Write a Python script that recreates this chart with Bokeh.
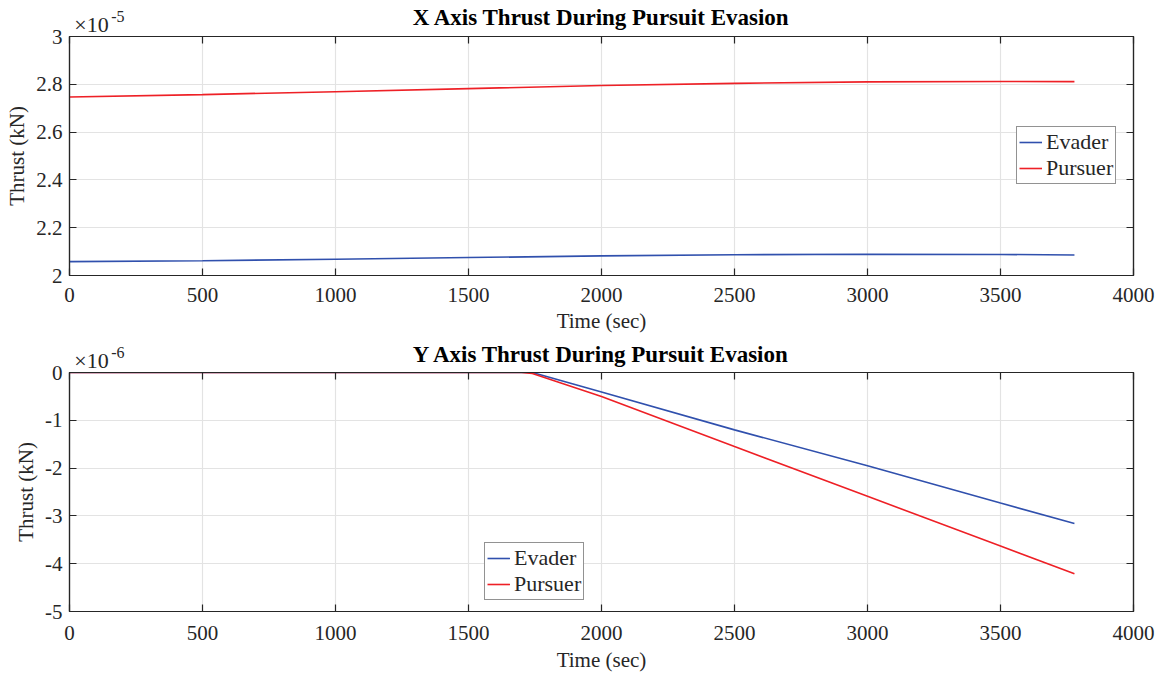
from bokeh.plotting import figure
from bokeh.layouts import column
from bokeh.models import LinearAxis, FixedTicker, Range1d, Legend, LegendItem
from bokeh.embed import file_html
from bokeh.resources import INLINE

# ---------------- data ----------------
# Top panel (values in units of 1e-5 kN)
t_x = [0, 500, 1000, 1500, 2000, 2500, 3000, 3500, 3778]
evader_x = [2.058, 2.062, 2.068, 2.075, 2.082, 2.087, 2.089, 2.088, 2.086]
pursuer_x = [2.747, 2.757, 2.769, 2.782, 2.795, 2.804, 2.810, 2.812, 2.811]

# Bottom panel (values in units of 1e-6 kN)
t_y = [0, 500, 1000, 1500, 1700, 1740, 2000, 2500, 3000, 3500, 3778]
evader_y = [0, 0, 0, 0, 0, 0, -0.41, -1.20, -1.95, -2.73, -3.16]
pursuer_y = [0, 0, 0, 0, 0, -0.02, -0.50, -1.55, -2.59, -3.63, -4.21]

x_ticks = [0, 500, 1000, 1500, 2000, 2500, 3000, 3500, 4000]
top_yticks = [2.0, 2.2, 2.4, 2.6, 2.8, 3.0]
top_ylabels = ["2", "2.2", "2.4", "2.6", "2.8", "3"]
bot_yticks = [-5, -4, -3, -2, -1, 0]
bot_ylabels = ["-5", "-4", "-3", "-2", "-1", "0"]

titles = ["X Axis Thrust During Pursuit Evasion", "Y Axis Thrust During Pursuit Evasion"]
series_names = ["Evader", "Pursuer"]
multiplier = "\u00d710"
exponents = ["-5", "-6"]

# ---------------- style ----------------
FONT = "Liberation Serif"
TXT = "#262626"
GRID = "#e3e3e3"
BLUE = "#3050ad"
RED = "#ee2026"
MULT_POS = 83      # x (data units) where the "x10" text is centred
EXP_POS = 182      # x (data units) where the exponent text is centred


def style_axis(ax, ticks, labels=None, show_labels=True):
    ax.ticker = FixedTicker(ticks=ticks)
    ax.major_tick_in = 7
    ax.major_tick_out = 0
    ax.minor_tick_line_color = None
    ax.axis_line_color = TXT
    ax.axis_line_width = 1.2
    ax.major_tick_line_color = TXT
    ax.major_tick_line_width = 1.2
    ax.major_label_text_font = FONT
    ax.major_label_text_color = TXT
    if show_labels:
        ax.major_label_text_font_size = "21px"
        if labels is not None:
            ax.major_label_overrides = {t: l for t, l in zip(ticks, labels)}
    else:
        ax.major_label_text_font_size = "1px"
        ax.major_label_text_color = None
        ax.major_label_standoff = 0


def text_axis(pos, text, size, standoff):
    ax = LinearAxis(ticker=FixedTicker(ticks=[pos]))
    ax.axis_line_color = None
    ax.major_tick_line_color = None
    ax.minor_tick_line_color = None
    ax.major_tick_in = 0
    ax.major_tick_out = 0
    ax.major_label_overrides = {pos: text}
    ax.major_label_text_font = FONT
    ax.major_label_text_font_size = size
    ax.major_label_text_color = TXT
    ax.major_label_standoff = standoff
    return ax


def make_panel(title, t, ev, pu, yr, yticks, ylabels, exp, height, top, bottom, legend_loc,
               title_standoff, xlab_standoff, xtitle_standoff):
    p = figure(width=1161, height=height, output_backend="svg", toolbar_location=None,
               title=None,
               x_range=Range1d(0, 4000), y_range=Range1d(*yr),
               min_border_left=69, min_border_right=28,
               min_border_top=top, min_border_bottom=bottom)
    p.outline_line_color = TXT
    p.outline_line_width = 1.2
    p.background_fill_color = "white"
    p.border_fill_color = "white"

    style_axis(p.xaxis[0], x_ticks)
    style_axis(p.yaxis[0], yticks, ylabels)
    p.xaxis[0].axis_label = "Time (sec)"
    p.yaxis[0].axis_label = "Thrust (kN)"
    for ax in (p.xaxis[0], p.yaxis[0]):
        ax.axis_label_text_font = FONT
        ax.axis_label_text_font_size = "21px"
        ax.axis_label_text_font_style = "normal"
        ax.axis_label_text_color = TXT
    p.xaxis[0].major_label_standoff = xlab_standoff
    p.xaxis[0].axis_label_standoff = xtitle_standoff
    p.yaxis[0].major_label_standoff = 7
    p.yaxis[0].axis_label_standoff = 4

    rax = LinearAxis()
    style_axis(rax, yticks, show_labels=False)
    p.add_layout(rax, "right")

    # top box edge with inward ticks
    tax = LinearAxis()
    style_axis(tax, x_ticks, show_labels=False)
    p.add_layout(tax, "above")

    # "x10" multiplier
    max_ = text_axis(MULT_POS, multiplier, "22px", 0)
    p.add_layout(max_, "above")
    # superscript exponent, plus bold title as this axis' label
    eax = text_axis(EXP_POS, exp, "16px", -13)
    eax.axis_label = title
    eax.axis_label_text_font = FONT
    eax.axis_label_text_font_size = "23px"
    eax.axis_label_text_font_style = "bold"
    eax.axis_label_text_color = "#000000"
    eax.axis_label_standoff = title_standoff
    p.add_layout(eax, "above")

    p.xgrid.grid_line_color = GRID
    p.ygrid.grid_line_color = GRID
    p.xgrid.grid_line_width = 1.2
    p.ygrid.grid_line_width = 1.2

    r1 = p.line(t, ev, line_color=BLUE, line_width=1.6)
    r2 = p.line(t, pu, line_color=RED, line_width=1.6)

    legend = Legend(items=[LegendItem(label=series_names[0], renderers=[r1]),
                           LegendItem(label=series_names[1], renderers=[r2])],
                    location=legend_loc)
    legend.label_text_font = FONT
    legend.label_text_font_size = "22px"
    legend.label_text_color = TXT
    legend.label_standoff = 4
    legend.label_height = 20
    legend.glyph_width = 23
    legend.glyph_height = 20
    legend.spacing = 0
    legend.padding = 2
    legend.margin = 0
    legend.border_line_color = TXT
    legend.border_line_width = 1.2
    legend.background_fill_alpha = 1.0
    p.add_layout(legend, "center")
    return p


p1 = make_panel(titles[0], t_x, evader_x, pursuer_x, (2.0, 3.0), top_yticks, top_ylabels,
                exponents[0], 337, 36, 62, (947, 91), -22, 12, 4)
p2 = make_panel(titles[1], t_y, evader_y, pursuer_y, (-5.0, 0.0), bot_yticks, bot_ylabels,
                exponents[1], 340, 35, 66, (415, 11), -23, 14, 5)

layout = column(p1, p2, spacing=0)
open("out.html", "w").write(file_html(layout, INLINE))
